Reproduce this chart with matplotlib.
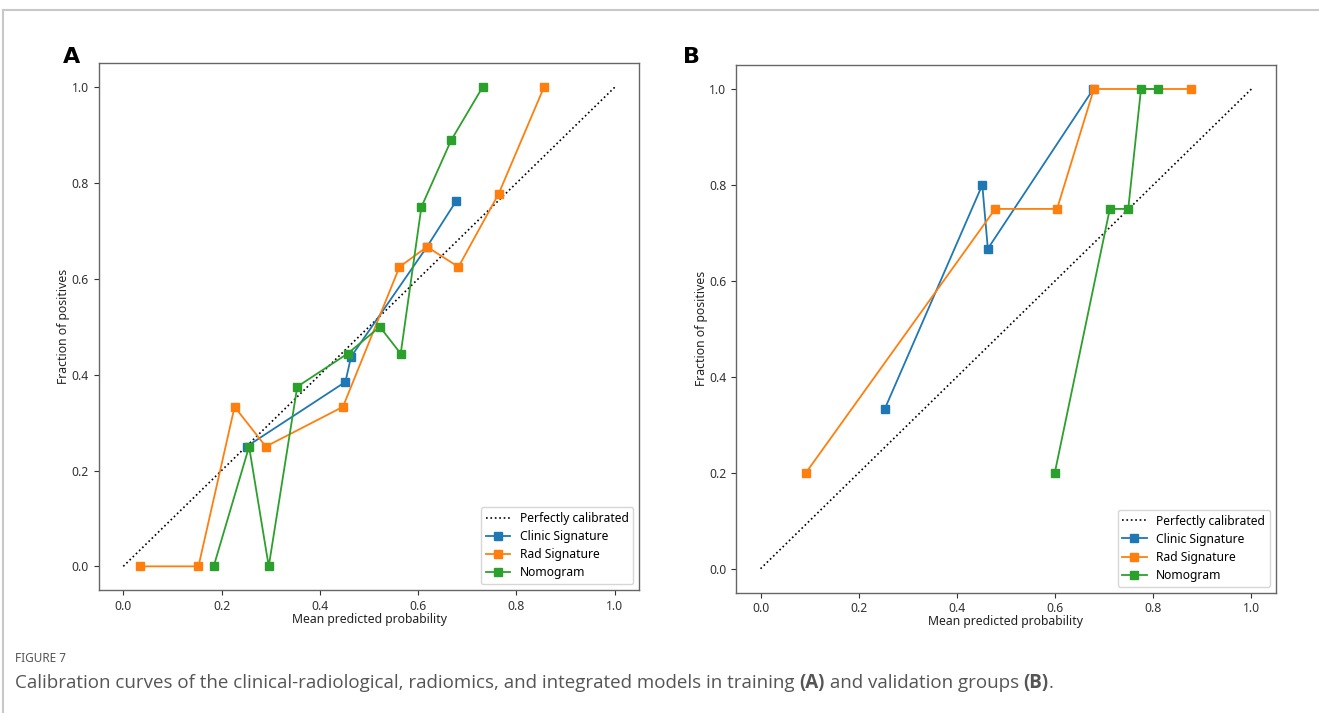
import matplotlib
matplotlib.use("Agg")
import matplotlib.pyplot as plt
from matplotlib.lines import Line2D

plt.rcParams['font.family'] = ['Noto Sans', 'DejaVu Sans']

# ---------------- data ----------------
series_names = ["Clinic Signature", "Rad Signature", "Nomogram"]
series_colors = ["#1f77b4", "#ff7f0e", "#2ca02c"]

# Panel A (training)
a_clinic_x = [0.251, 0.452, 0.4635, 0.618, 0.677]
a_clinic_y = [0.25, 0.385, 0.4375, 0.667, 0.762]
a_rad_x = [0.034, 0.153, 0.2265, 0.290, 0.447, 0.562, 0.618, 0.682, 0.764, 0.856]
a_rad_y = [0.0, 0.0, 0.333, 0.25, 0.333, 0.625, 0.667, 0.625, 0.778, 1.0]
a_nomo_x = [0.184, 0.256, 0.296, 0.354, 0.4565, 0.522, 0.5645, 0.6066, 0.667, 0.731]
a_nomo_y = [0.0, 0.25, 0.0, 0.375, 0.444, 0.5, 0.444, 0.75, 0.889, 1.0]

# Panel B (validation)
b_clinic_x = [0.253, 0.4517, 0.463, 0.678]
b_clinic_y = [0.333, 0.8, 0.667, 1.0]
b_rad_x = [0.0924, 0.478, 0.604, 0.679, 0.876]
b_rad_y = [0.2, 0.75, 0.75, 1.0, 1.0]
b_nomo_x = [0.5994, 0.7115, 0.749, 0.775, 0.810]
b_nomo_y = [0.2, 0.75, 0.75, 1.0, 1.0]

ticks = [0.0, 0.2, 0.4, 0.6, 0.8, 1.0]
tick_labels = ["0.0", "0.2", "0.4", "0.6", "0.8", "1.0"]
panel_labels = ["A", "B"]
x_label = "Mean predicted probability"
y_label = "Fraction of positives"
diag_label = "Perfectly calibrated"
fig_title = "FIGURE 7"
caption_parts = [
    ("Calibration curves of the clinical-radiological, radiomics, and integrated models in training ", "normal"),
    ("(A)", "bold"),
    (" and validation groups ", "normal"),
    ("(B)", "bold"),
    (".", "normal"),
]

# ---------------- figure ----------------
W, H = 1319, 713
fig = plt.figure(figsize=(W / 100, H / 100), dpi=100)

# outer frame lines (top and left)
fig.add_artist(Line2D([3 / W, 1.0], [1 - 10 / H, 1 - 10 / H], transform=fig.transFigure,
                      color="#c8c8c8", lw=1.5))
fig.add_artist(Line2D([3 / W, 3 / W], [0, 1 - 10 / H], transform=fig.transFigure,
                      color="#c8c8c8", lw=1.5))

axA = fig.add_axes([98.7 / W, 1 - 590.3 / H, 540.6 / W, 527.0 / H])
axB = fig.add_axes([736 / W, 1 - 592.7 / H, 540.0 / W, 527.7 / H])

panels = [
    (axA, [(a_clinic_x, a_clinic_y), (a_rad_x, a_rad_y), (a_nomo_x, a_nomo_y)]),
    (axB, [(b_clinic_x, b_clinic_y), (b_rad_x, b_rad_y), (b_nomo_x, b_nomo_y)]),
]

for ax, data in panels:
    ax.plot([0, 1], [0, 1], "k:", lw=1.2, label=diag_label)
    for (xs, ys), name, col in zip(data, series_names, series_colors):
        ax.plot(xs, ys, "s-", color=col, lw=1.3, ms=5.5, label=name)
    ax.set_xlim(-0.05, 1.05)
    ax.set_ylim(-0.05, 1.05)
    ax.set_xticks(ticks)
    ax.set_xticklabels(tick_labels)
    ax.set_yticks(ticks)
    ax.set_yticklabels(tick_labels)
    ax.tick_params(labelsize=8.8, colors="#333333", length=3.5, width=0.8)
    for s in ax.spines.values():
        s.set_color("#666666")
        s.set_linewidth(1.0)
    ax.set_xlabel(x_label, fontsize=8.8, color="#222222", labelpad=0)
    ax.set_ylabel(y_label, fontsize=8.8, color="#222222", labelpad=1)
    ax.legend(loc="lower right", fontsize=8.7, handlelength=2.0, borderpad=0.4,
              labelspacing=0.42)

fig.text(63 / W, 1 - 63 / H, panel_labels[0], fontsize=16, fontweight="bold",
         family="DejaVu Sans", ha="left", va="baseline")
fig.text(683 / W, 1 - 63 / H, panel_labels[1], fontsize=16, fontweight="bold",
         family="DejaVu Sans", ha="left", va="baseline")

fig.text(15 / W, 1 - 662 / H, fig_title, fontsize=8.5, color="#555555",
         ha="left", va="baseline")

# caption with bold parts, placed consecutively
fig.canvas.draw()
renderer = fig.canvas.get_renderer()
xpos = 15
for txt, weight in caption_parts:
    t = fig.text(xpos / W, 1 - 688 / H, txt, fontsize=13.5, color="#555555",
                 fontweight=weight, family=["Open Sans", "DejaVu Sans"],
                 ha="left", va="baseline")
    bb = t.get_window_extent(renderer=renderer)
    xpos += bb.width

fig.savefig("out.png", dpi=100)
